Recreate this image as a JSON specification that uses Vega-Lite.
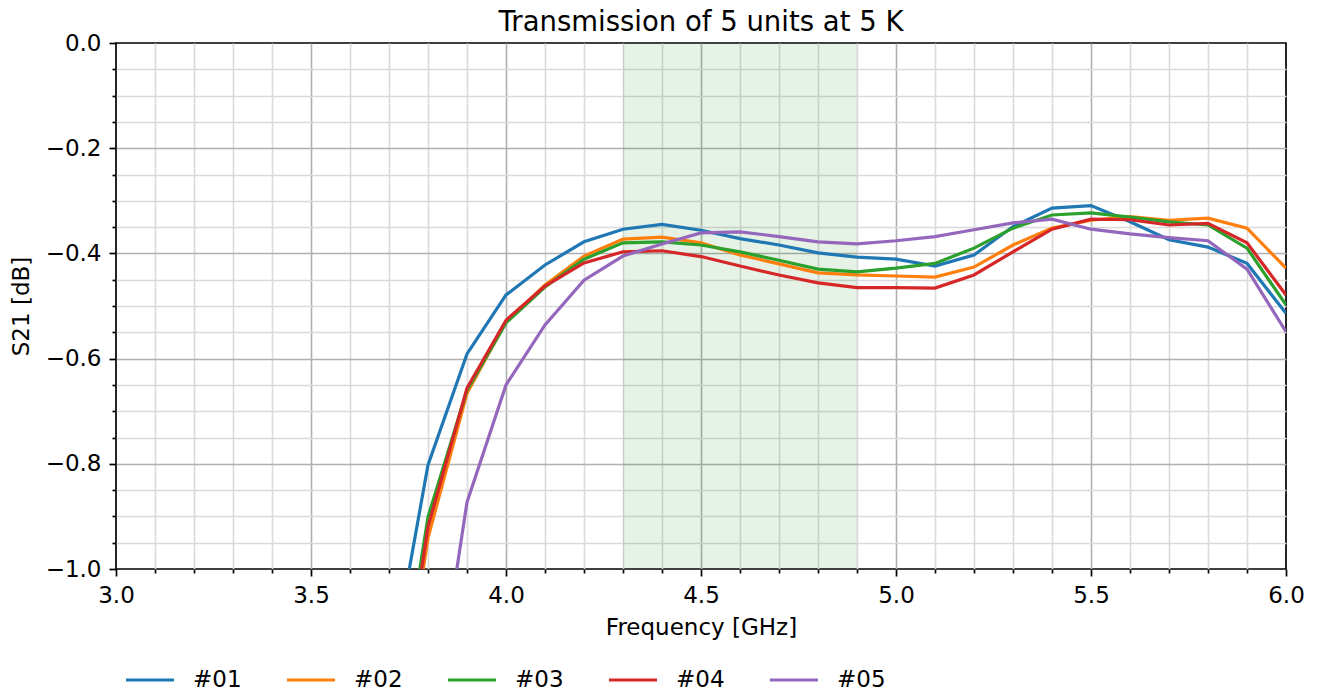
{
  "$schema": "https://vega.github.io/schema/vega-lite/v6.json",
  "width": 1170,
  "height": 526,
  "autosize": {"type": "none"},
  "padding": {"left": 116, "top": 43, "right": 33, "bottom": 125},
  "background": "white",
  "config": {
    "font": "DejaVu Sans",
    "view": {"stroke": "black", "strokeWidth": 1.7},
    "axisX": {
      "titleFontSize": 23,
      "titleFontWeight": "normal",
      "titleColor": "black",
      "titleFont": "DejaVu Sans",
      "titleBaseline": "middle",
      "titleY": 58,
      "labelFontSize": 23,
      "labelColor": "black",
      "labelFont": "DejaVu Sans",
      "labelPadding": 8,
      "labelOverlap": false,
      "labelFlush": false,
      "domain": false,
      "tickColor": "black",
      "tickWidth": 1.7,
      "gridWidth": 1.6
    },
    "axisY": {
      "titleFontSize": 23,
      "titleFontWeight": "normal",
      "titleColor": "black",
      "titleFont": "DejaVu Sans",
      "labelFontSize": 23,
      "labelColor": "black",
      "labelFont": "DejaVu Sans",
      "labelPadding": 8,
      "labelOverlap": false,
      "labelFlush": false,
      "domain": false,
      "tickColor": "black",
      "tickWidth": 1.7,
      "gridWidth": 1.6
    }
  },
  "title": {
    "text": "Transmission of 5 units at 5 K",
    "fontSize": 27.5,
    "fontWeight": "normal",
    "font": "DejaVu Sans",
    "color": "black",
    "anchor": "middle",
    "offset": -4.5
  },
  "datasets": {
    "band": [{"start": 4.3, "end": 4.9}],
    "s21": [
      {"f": 3.7, "s21": -1.215, "unit": "#01"},
      {"f": 3.8, "s21": -0.802, "unit": "#01"},
      {"f": 3.9, "s21": -0.591, "unit": "#01"},
      {"f": 4.0, "s21": -0.479, "unit": "#01"},
      {"f": 4.1, "s21": -0.422, "unit": "#01"},
      {"f": 4.2, "s21": -0.378, "unit": "#01"},
      {"f": 4.3, "s21": -0.354, "unit": "#01"},
      {"f": 4.4, "s21": -0.345, "unit": "#01"},
      {"f": 4.5, "s21": -0.356, "unit": "#01"},
      {"f": 4.6, "s21": -0.372, "unit": "#01"},
      {"f": 4.7, "s21": -0.384, "unit": "#01"},
      {"f": 4.8, "s21": -0.399, "unit": "#01"},
      {"f": 4.9, "s21": -0.407, "unit": "#01"},
      {"f": 5.0, "s21": -0.411, "unit": "#01"},
      {"f": 5.1, "s21": -0.424, "unit": "#01"},
      {"f": 5.2, "s21": -0.403, "unit": "#01"},
      {"f": 5.3, "s21": -0.349, "unit": "#01"},
      {"f": 5.4, "s21": -0.314, "unit": "#01"},
      {"f": 5.5, "s21": -0.309, "unit": "#01"},
      {"f": 5.6, "s21": -0.340, "unit": "#01"},
      {"f": 5.7, "s21": -0.374, "unit": "#01"},
      {"f": 5.8, "s21": -0.388, "unit": "#01"},
      {"f": 5.9, "s21": -0.419, "unit": "#01"},
      {"f": 6.0, "s21": -0.514, "unit": "#01"},

      {"f": 3.7, "s21": -1.43, "unit": "#02"},
      {"f": 3.8, "s21": -0.941, "unit": "#02"},
      {"f": 3.9, "s21": -0.666, "unit": "#02"},
      {"f": 4.0, "s21": -0.530, "unit": "#02"},
      {"f": 4.1, "s21": -0.460, "unit": "#02"},
      {"f": 4.2, "s21": -0.405, "unit": "#02"},
      {"f": 4.3, "s21": -0.373, "unit": "#02"},
      {"f": 4.4, "s21": -0.369, "unit": "#02"},
      {"f": 4.5, "s21": -0.380, "unit": "#02"},
      {"f": 4.6, "s21": -0.403, "unit": "#02"},
      {"f": 4.7, "s21": -0.420, "unit": "#02"},
      {"f": 4.8, "s21": -0.437, "unit": "#02"},
      {"f": 4.9, "s21": -0.441, "unit": "#02"},
      {"f": 5.0, "s21": -0.443, "unit": "#02"},
      {"f": 5.1, "s21": -0.445, "unit": "#02"},
      {"f": 5.2, "s21": -0.426, "unit": "#02"},
      {"f": 5.3, "s21": -0.384, "unit": "#02"},
      {"f": 5.4, "s21": -0.352, "unit": "#02"},
      {"f": 5.5, "s21": -0.337, "unit": "#02"},
      {"f": 5.6, "s21": -0.330, "unit": "#02"},
      {"f": 5.7, "s21": -0.337, "unit": "#02"},
      {"f": 5.8, "s21": -0.333, "unit": "#02"},
      {"f": 5.9, "s21": -0.352, "unit": "#02"},
      {"f": 6.0, "s21": -0.428, "unit": "#02"},

      {"f": 3.7, "s21": -1.372, "unit": "#03"},
      {"f": 3.8, "s21": -0.901, "unit": "#03"},
      {"f": 3.9, "s21": -0.660, "unit": "#03"},
      {"f": 4.0, "s21": -0.532, "unit": "#03"},
      {"f": 4.1, "s21": -0.464, "unit": "#03"},
      {"f": 4.2, "s21": -0.411, "unit": "#03"},
      {"f": 4.3, "s21": -0.380, "unit": "#03"},
      {"f": 4.4, "s21": -0.378, "unit": "#03"},
      {"f": 4.5, "s21": -0.384, "unit": "#03"},
      {"f": 4.6, "s21": -0.397, "unit": "#03"},
      {"f": 4.7, "s21": -0.413, "unit": "#03"},
      {"f": 4.8, "s21": -0.430, "unit": "#03"},
      {"f": 4.9, "s21": -0.435, "unit": "#03"},
      {"f": 5.0, "s21": -0.428, "unit": "#03"},
      {"f": 5.1, "s21": -0.419, "unit": "#03"},
      {"f": 5.2, "s21": -0.390, "unit": "#03"},
      {"f": 5.3, "s21": -0.352, "unit": "#03"},
      {"f": 5.4, "s21": -0.327, "unit": "#03"},
      {"f": 5.5, "s21": -0.323, "unit": "#03"},
      {"f": 5.6, "s21": -0.331, "unit": "#03"},
      {"f": 5.7, "s21": -0.340, "unit": "#03"},
      {"f": 5.8, "s21": -0.346, "unit": "#03"},
      {"f": 5.9, "s21": -0.390, "unit": "#03"},
      {"f": 6.0, "s21": -0.498, "unit": "#03"},

      {"f": 3.7, "s21": -1.414, "unit": "#04"},
      {"f": 3.8, "s21": -0.920, "unit": "#04"},
      {"f": 3.9, "s21": -0.656, "unit": "#04"},
      {"f": 4.0, "s21": -0.527, "unit": "#04"},
      {"f": 4.1, "s21": -0.462, "unit": "#04"},
      {"f": 4.2, "s21": -0.418, "unit": "#04"},
      {"f": 4.3, "s21": -0.397, "unit": "#04"},
      {"f": 4.4, "s21": -0.395, "unit": "#04"},
      {"f": 4.5, "s21": -0.406, "unit": "#04"},
      {"f": 4.6, "s21": -0.424, "unit": "#04"},
      {"f": 4.7, "s21": -0.441, "unit": "#04"},
      {"f": 4.8, "s21": -0.456, "unit": "#04"},
      {"f": 4.9, "s21": -0.465, "unit": "#04"},
      {"f": 5.0, "s21": -0.465, "unit": "#04"},
      {"f": 5.1, "s21": -0.466, "unit": "#04"},
      {"f": 5.2, "s21": -0.441, "unit": "#04"},
      {"f": 5.3, "s21": -0.397, "unit": "#04"},
      {"f": 5.4, "s21": -0.354, "unit": "#04"},
      {"f": 5.5, "s21": -0.335, "unit": "#04"},
      {"f": 5.6, "s21": -0.336, "unit": "#04"},
      {"f": 5.7, "s21": -0.346, "unit": "#04"},
      {"f": 5.8, "s21": -0.343, "unit": "#04"},
      {"f": 5.9, "s21": -0.380, "unit": "#04"},
      {"f": 6.0, "s21": -0.479, "unit": "#04"},

      {"f": 3.8, "s21": -1.36, "unit": "#05"},
      {"f": 3.9, "s21": -0.873, "unit": "#05"},
      {"f": 4.0, "s21": -0.650, "unit": "#05"},
      {"f": 4.1, "s21": -0.536, "unit": "#05"},
      {"f": 4.2, "s21": -0.451, "unit": "#05"},
      {"f": 4.3, "s21": -0.405, "unit": "#05"},
      {"f": 4.4, "s21": -0.382, "unit": "#05"},
      {"f": 4.5, "s21": -0.361, "unit": "#05"},
      {"f": 4.6, "s21": -0.359, "unit": "#05"},
      {"f": 4.7, "s21": -0.368, "unit": "#05"},
      {"f": 4.8, "s21": -0.378, "unit": "#05"},
      {"f": 4.9, "s21": -0.382, "unit": "#05"},
      {"f": 5.0, "s21": -0.376, "unit": "#05"},
      {"f": 5.1, "s21": -0.368, "unit": "#05"},
      {"f": 5.2, "s21": -0.355, "unit": "#05"},
      {"f": 5.3, "s21": -0.342, "unit": "#05"},
      {"f": 5.4, "s21": -0.335, "unit": "#05"},
      {"f": 5.5, "s21": -0.354, "unit": "#05"},
      {"f": 5.6, "s21": -0.363, "unit": "#05"},
      {"f": 5.7, "s21": -0.370, "unit": "#05"},
      {"f": 5.8, "s21": -0.376, "unit": "#05"},
      {"f": 5.9, "s21": -0.430, "unit": "#05"},
      {"f": 6.0, "s21": -0.549, "unit": "#05"}
    ]
  },
  "layer": [
    {
      "data": {"name": "band"},
      "mark": {"type": "rect", "fill": "green", "opacity": 0.1},
      "encoding": {
        "x": {
          "field": "start",
          "type": "quantitative",
          "title": "Frequency [GHz]",
          "scale": {"domain": [3, 6], "nice": false, "zero": false},
          "axis": {
            "values": [3.0, 3.1, 3.2, 3.3, 3.4, 3.5, 3.6, 3.7, 3.8, 3.9, 4.0, 4.1, 4.2, 4.3, 4.4, 4.5, 4.6, 4.7, 4.8, 4.9, 5.0, 5.1, 5.2, 5.3, 5.4, 5.5, 5.6, 5.7, 5.8, 5.9, 6.0],
            "labelExpr": "abs(round(datum.value*10) % 5) == 0 ? format(datum.value, '.1f') : ''",
            "tickSize": {"condition": {"test": "abs(round(datum.value*10) % 5) == 0", "value": 7}, "value": 4},
            "grid": true,
            "gridColor": {"condition": {"test": "abs(round(datum.value*10) % 5) == 0", "value": "#b0b0b0"}, "value": "#dadada"},
            "gridOpacity": {"condition": {"test": "datum.value < 3.01 || datum.value > 5.99", "value": 0}, "value": 1}
          }
        },
        "x2": {"field": "end"}
      }
    },
    {
      "data": {"name": "s21"},
      "mark": {"type": "line", "strokeWidth": 3.2, "clip": true},
      "encoding": {
        "x": {
          "field": "f",
          "type": "quantitative",
          "title": "Frequency [GHz]",
          "scale": {"domain": [3, 6], "nice": false, "zero": false},
          "axis": {
            "values": [3.0, 3.1, 3.2, 3.3, 3.4, 3.5, 3.6, 3.7, 3.8, 3.9, 4.0, 4.1, 4.2, 4.3, 4.4, 4.5, 4.6, 4.7, 4.8, 4.9, 5.0, 5.1, 5.2, 5.3, 5.4, 5.5, 5.6, 5.7, 5.8, 5.9, 6.0],
            "labelExpr": "abs(round(datum.value*10) % 5) == 0 ? format(datum.value, '.1f') : ''",
            "tickSize": {"condition": {"test": "abs(round(datum.value*10) % 5) == 0", "value": 7}, "value": 4},
            "grid": true,
            "gridColor": {"condition": {"test": "abs(round(datum.value*10) % 5) == 0", "value": "#b0b0b0"}, "value": "#dadada"},
            "gridOpacity": {"condition": {"test": "datum.value < 3.01 || datum.value > 5.99", "value": 0}, "value": 1}
          }
        },
        "y": {
          "field": "s21",
          "type": "quantitative",
          "title": "S21 [dB]",
          "scale": {"domain": [-1, 0], "nice": false, "zero": false},
          "axis": {
            "titleBaseline": "middle",
            "titleX": -95,
            "titleY": 263,
            "values": [-1.0, -0.95, -0.9, -0.85, -0.8, -0.75, -0.7, -0.65, -0.6, -0.55, -0.5, -0.45, -0.4, -0.35, -0.3, -0.25, -0.2, -0.15, -0.1, -0.05, 0],
            "labelExpr": "abs(round(datum.value*20) % 4) == 0 ? format(datum.value, '.1f') : ''",
            "tickSize": {"condition": {"test": "abs(round(datum.value*20) % 4) == 0", "value": 7}, "value": 4},
            "grid": true,
            "gridColor": {"condition": {"test": "abs(round(datum.value*20) % 4) == 0", "value": "#b0b0b0"}, "value": "#dadada"},
            "gridOpacity": {"condition": {"test": "datum.value < -0.99 || datum.value > -0.01", "value": 0}, "value": 1}
          }
        },
        "color": {
          "field": "unit",
          "type": "nominal",
          "scale": {"domain": ["#01", "#02", "#03", "#04", "#05"], "range": ["#1f77b4", "#ff7f0e", "#2ca02c", "#d62728", "#9467bd"]},
          "legend": {
            "orient": "none",
            "legendX": 8,
            "legendY": 611,
            "direction": "horizontal",
            "title": null,
            "symbolType": "stroke",
            "symbolSize": 2304,
            "symbolStrokeWidth": 3.2,
            "labelFontSize": 23,
            "labelFont": "DejaVu Sans",
            "labelColor": "black",
            "labelOffset": 17,
            "columnPadding": 38,
            "padding": 0
          }
        }
      }
    }
  ]
}
